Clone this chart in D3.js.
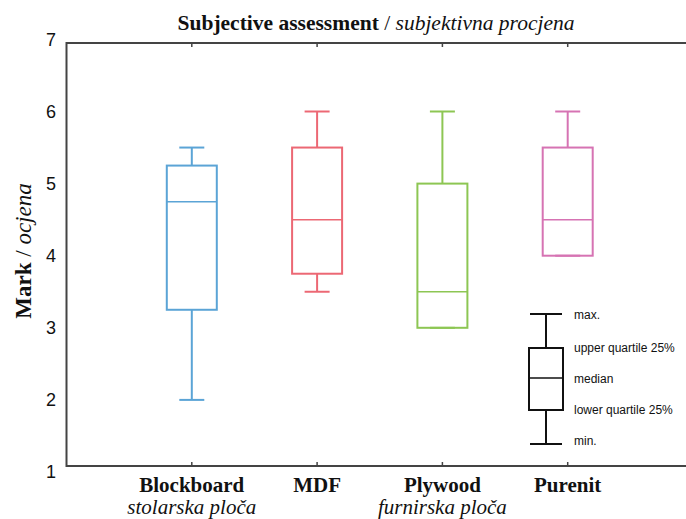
<!DOCTYPE html>
<html>
<head>
<meta charset="utf-8">
<script src="https://cdn.jsdelivr.net/npm/d3@7"></script>
<style>
  body { margin: 0; background: #fff; }
  svg { display: block; }
  .tick-label { font-family: "Liberation Sans", Arial, sans-serif; font-size: 18px; fill: #111; }
  .serif { font-family: "Liberation Serif", "Times New Roman", serif; fill: #111; }
  .legend-text { font-family: "Liberation Sans", Arial, sans-serif; font-size: 12px; fill: #111; }
</style>
</head>
<body>
<div id="chart"></div>
<script>
// data
var categories = ["Blockboard", "MDF", "Plywood", "Purenit"];
var subLabels = ["stolarska ploča", "", "furnirska ploča", ""];
var mins    = [2.0, 3.5, 3.0, 4.0];
var q1s     = [3.25, 3.75, 3.0, 4.0];
var medians = [4.75, 4.5, 3.5, 4.5];
var q3s     = [5.25, 5.5, 5.0, 5.5];
var maxs    = [5.5, 6.0, 6.0, 6.0];
var colors  = ["#5ba4d6", "#ec6874", "#8dc653", "#d673b3"];
var yTicks  = [1, 2, 3, 4, 5, 6, 7];

var legendLabels = ["max.", "upper quartile 25%", "median", "lower quartile 25%", "min."];

var svgWidth = 686;
var svgHeight = 519;

var svg = d3.select("#chart")
  .append("svg")
  .attr("width", svgWidth)
  .attr("height", svgHeight);

var frameLeft = 66.5, frameTop = 43, frameBottom = 466;

// x: category i sits at left + (i+1) * step
var step = 125.3;
var xScale = d3.scalePoint()
  .domain(categories)
  .range([frameLeft + step, frameLeft + step * categories.length]);

var yScale = d3.scaleLinear()
  .domain([1, 7])
  .range([472, 39.4]);

// frame (right side runs off the page)
svg.append("path")
  .attr("d", `M${svgWidth + 10},${frameTop}H${frameLeft}V${frameBottom}H${svgWidth + 10}`)
  .attr("fill", "none")
  .attr("stroke", "#444")
  .attr("stroke-width", 2);

// small category ticks on top and bottom
categories.forEach(function(c) {
  var x = xScale(c);
  svg.append("line").attr("x1", x).attr("x2", x).attr("y1", frameTop).attr("y2", frameTop + 4)
    .attr("stroke", "#444").attr("stroke-width", 1.5);
  svg.append("line").attr("x1", x).attr("x2", x).attr("y1", frameBottom).attr("y2", frameBottom - 4)
    .attr("stroke", "#444").attr("stroke-width", 1.5);
});

// y tick labels
svg.selectAll(".tick-label")
  .data(yTicks)
  .enter()
  .append("text")
  .classed("tick-label", true)
  .attr("x", 56)
  .attr("y", d => yScale(d))
  .attr("dy", "0.36em")
  .attr("text-anchor", "end")
  .text(d => d);

// box plots
var boxW = 50, capW = 25;
categories.forEach(function(c, i) {
  var x = xScale(c);
  var g = svg.append("g")
    .attr("stroke", colors[i])
    .attr("stroke-width", 2)
    .attr("fill", "none");

  // whiskers
  g.append("line").attr("x1", x).attr("x2", x).attr("y1", yScale(maxs[i])).attr("y2", yScale(q3s[i]));
  g.append("line").attr("x1", x).attr("x2", x).attr("y1", yScale(q1s[i])).attr("y2", yScale(mins[i]));
  g.append("line").attr("x1", x - capW / 2).attr("x2", x + capW / 2).attr("y1", yScale(maxs[i])).attr("y2", yScale(maxs[i]));
  g.append("line").attr("x1", x - capW / 2).attr("x2", x + capW / 2).attr("y1", yScale(mins[i])).attr("y2", yScale(mins[i]));

  // box
  g.append("rect")
    .attr("x", x - boxW / 2)
    .attr("y", yScale(q3s[i]))
    .attr("width", boxW)
    .attr("height", yScale(q1s[i]) - yScale(q3s[i]));

  // median
  g.append("line")
    .attr("x1", x - boxW / 2).attr("x2", x + boxW / 2)
    .attr("y1", yScale(medians[i])).attr("y2", yScale(medians[i]))
    .attr("stroke-width", 1.5);
});

// x labels
categories.forEach(function(c, i) {
  svg.append("text")
    .classed("serif", true)
    .attr("x", xScale(c))
    .attr("y", 492)
    .attr("text-anchor", "middle")
    .attr("font-size", 21)
    .attr("font-weight", "bold")
    .text(c);
  if (subLabels[i]) {
    svg.append("text")
      .classed("serif", true)
      .attr("x", xScale(c))
      .attr("y", 514)
      .attr("text-anchor", "middle")
      .attr("font-size", 21)
      .attr("font-style", "italic")
      .text(subLabels[i]);
  }
});

// title
var title = svg.append("text")
  .classed("serif", true)
  .attr("x", 376)
  .attr("y", 30)
  .attr("text-anchor", "middle")
  .attr("font-size", 21.5);
title.append("tspan").attr("font-weight", "bold").text("Subjective assessment");
title.append("tspan").text(" / ");
title.append("tspan").attr("font-style", "italic").text("subjektivna procjena");

// y axis title
var yTitle = svg.append("text")
  .classed("serif", true)
  .attr("transform", "translate(31, 251) rotate(-90)")
  .attr("text-anchor", "middle")
  .attr("font-size", 23);
yTitle.append("tspan").attr("font-weight", "bold").text("Mark");
yTitle.append("tspan").text(" / ");
yTitle.append("tspan").attr("font-style", "italic").text("ocjena");

// legend box (schematic)
var lg = svg.append("g").attr("transform", "translate(546, 0)");
var legendY = [314, 348, 378, 410, 444];
lg.append("line").attr("x1", -16).attr("x2", 16).attr("y1", legendY[0]).attr("y2", legendY[0]);
lg.append("line").attr("x1", 0).attr("x2", 0).attr("y1", legendY[0]).attr("y2", legendY[1]);
lg.append("rect").attr("x", -17).attr("y", legendY[1]).attr("width", 34).attr("height", legendY[3] - legendY[1])
  .attr("fill", "none");
lg.append("line").attr("x1", -17).attr("x2", 17).attr("y1", legendY[2]).attr("y2", legendY[2]).attr("stroke-width", 1.3);
lg.append("line").attr("x1", 0).attr("x2", 0).attr("y1", legendY[3]).attr("y2", legendY[4]);
lg.append("line").attr("x1", -16).attr("x2", 16).attr("y1", legendY[4]).attr("y2", legendY[4]);
lg.selectAll("line, rect").attr("stroke", "#111").attr("stroke-width", function() {
  return d3.select(this).attr("stroke-width") || 2;
});

lg.selectAll(".legend-text")
  .data(legendLabels)
  .enter()
  .append("text")
  .classed("legend-text", true)
  .attr("x", 28)
  .attr("y", (d, i) => [315, 348, 379, 410, 441][i])
  .attr("dy", "0.35em")
  .text(d => d);
</script>
</body>
</html>
